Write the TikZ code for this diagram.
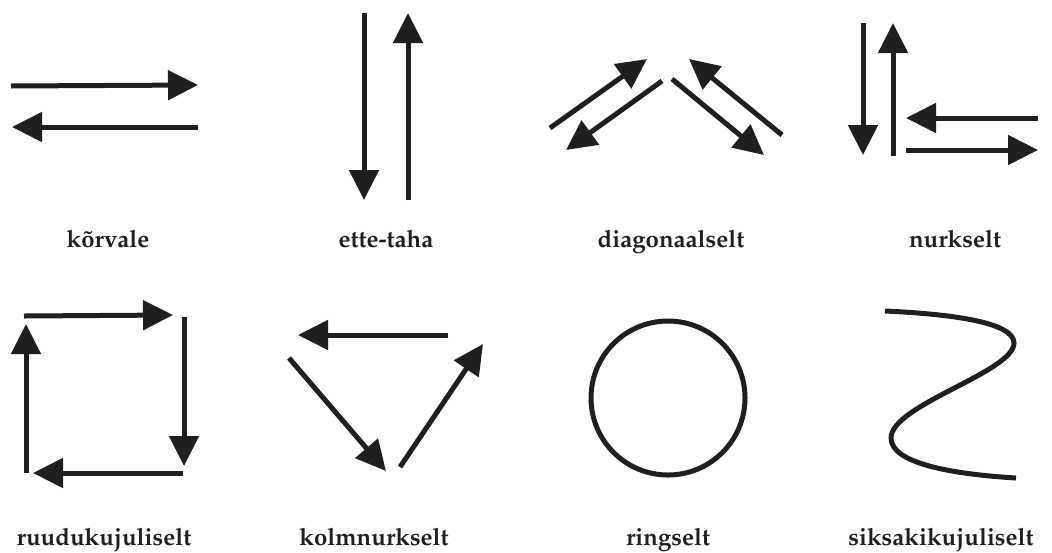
\documentclass[tikz,border=0pt]{standalone}
\usepackage[T1]{fontenc}
\usepackage{mathpazo}
\usetikzlibrary{arrows.meta}

\begin{document}
\begin{tikzpicture}[x=0.5pt, y=-0.5pt, line width=2.5pt, color={black!88},
  arr/.style={-{Triangle[length=15pt, width=14.5pt]}},
  lbl/.style={font=\bfseries\fontsize{12}{14}\selectfont, anchor=base, inner sep=0pt}]
\useasboundingbox (0,0) rectangle (1052,552);
% korvale
\draw[arr] (11,86) -- (198,85);
\draw[arr] (198,127) -- (12,127);
\node[lbl] (korvale) at (108,247) {k\~orvale};
% ette-taha
\draw[arr] (364,13) -- (364,200);
\draw[arr] (408,200) -- (408,13);
\node[lbl] (ettetaha) at (386,247) {ette-taha};
% diagonaalselt
\draw[arr] (550,128) -- (647,59);
\draw[arr] (662,81) -- (566,150);
\draw[arr] (672,79) -- (764,155);
\draw[arr] (782,135) -- (689,59);
\node[lbl] (diag) at (671,247) {diagonaalselt};
% nurkselt
\draw[arr] (863,23) -- (863,155);
\draw[arr] (893,156) -- (893,23);
\draw[arr] (1038,118) -- (906,118);
\draw[arr] (906,150) -- (1038,150);
\node[lbl] (nurk) at (955,247) {nurkselt};
% ruudukujuliselt
\draw[arr] (24,316) -- (173,315);
\draw[arr] (184,317) -- (184,466);
\draw[arr] (183,473) -- (33,473);
\draw[arr] (26,473) -- (26,324);
\node[lbl] (ruut) at (104,545) {ruudukujuliselt};
% kolmnurkselt
\draw[arr] (448,335) -- (298,335);
\draw[arr] (289,358) -- (386,471);
\draw[arr] (400,467) -- (483,344);
\node[lbl] (kolm) at (374,545) {kolmnurkselt};
% ringselt
\draw (668,398) circle[radius=77];
\node[lbl] (ring) at (668,545) {ringselt};
% siksakikujuliselt
\draw (885,311) .. controls (950,314) and (1014,322) .. (1014,343)
  .. controls (1014,372) and (891,405) .. (891,438)
  .. controls (891,463) and (950,474) .. (1016,478);
\node[lbl] (siksak) at (941,545) {siksakikujuliselt};
\end{tikzpicture}
\end{document}
